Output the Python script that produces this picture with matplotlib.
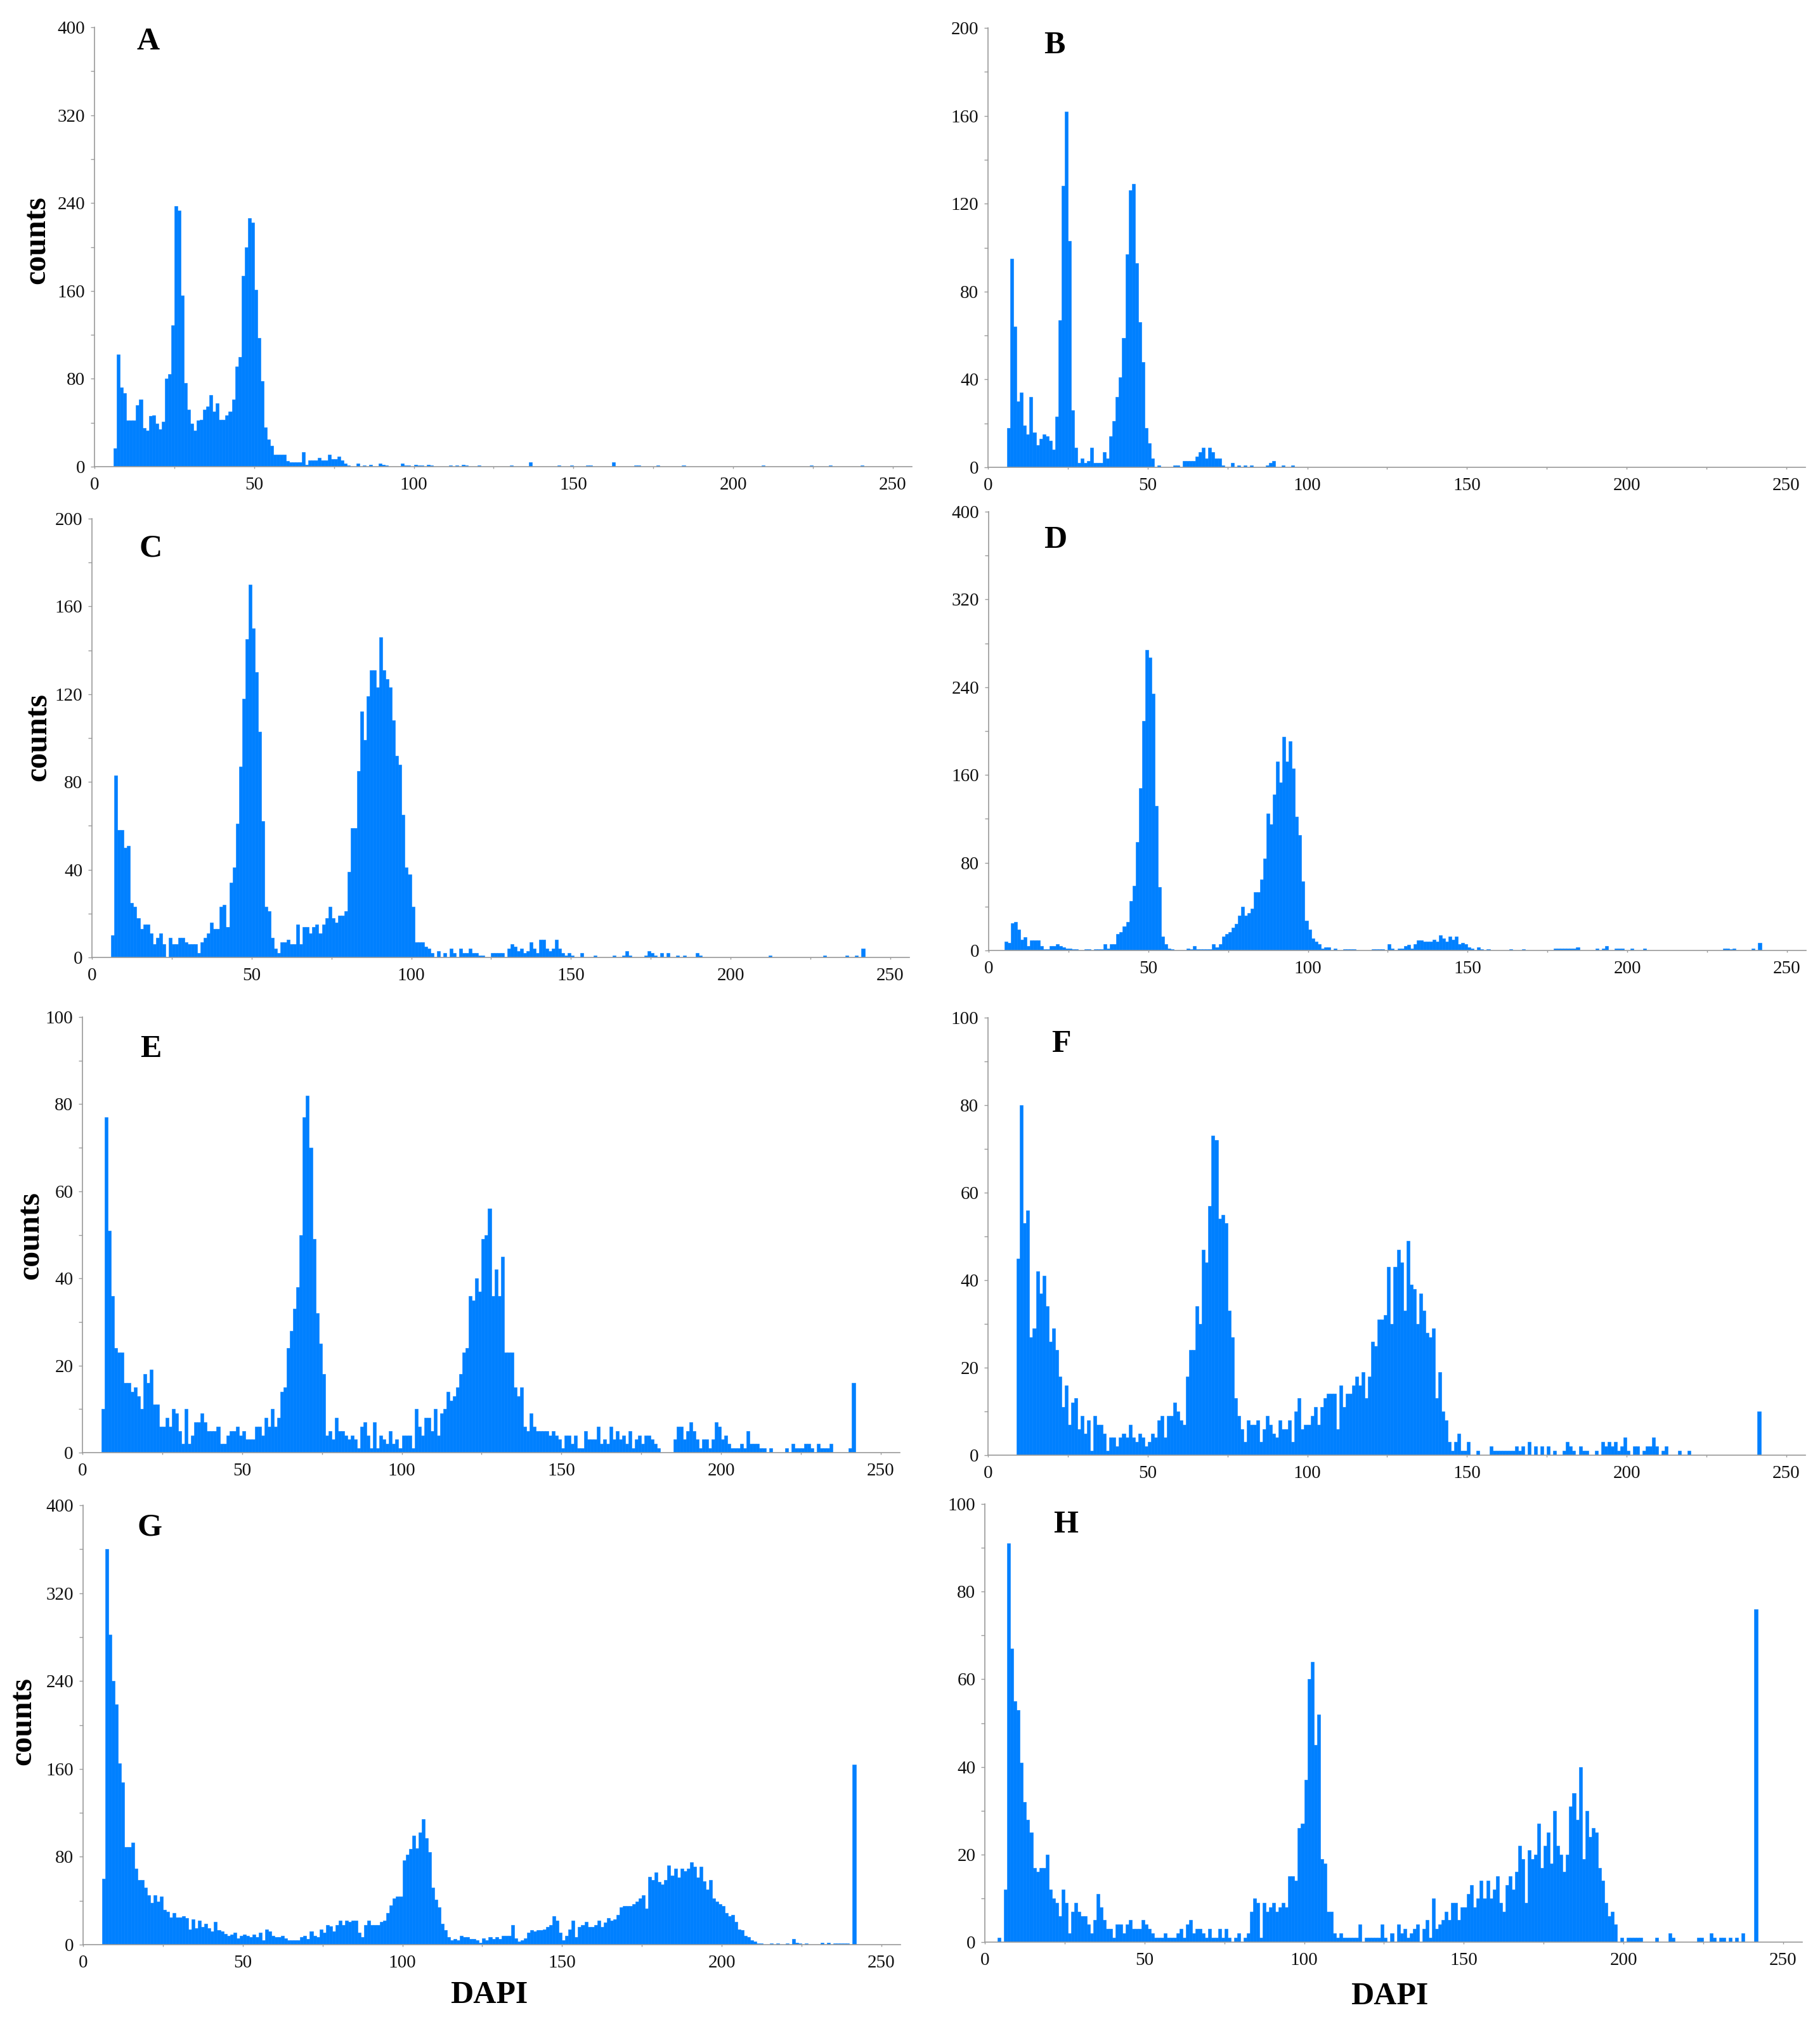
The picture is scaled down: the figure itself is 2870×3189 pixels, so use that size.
import numpy as np
import matplotlib
matplotlib.use('Agg')
import matplotlib.pyplot as plt
from matplotlib.ticker import MultipleLocator

plt.rcParams['font.family'] = ['Liberation Serif', 'DejaVu Serif']

# Histogramas DAPI: cuentas por canal (bins de ancho 1)

# A
a_start = 6
a_counts = [17, 102, 72, 67, 42, 42, 42, 56, 61, 35, 33, 46, 47, 39, 34, 41, 80, 84, 129, 237,
            233, 156, 76, 52, 39, 33, 42, 43, 52, 55, 65, 50, 58, 43, 43, 47, 50, 61, 91, 100,
            174, 200, 226, 222, 161, 117, 78, 36, 25, 19, 11, 11, 11, 11, 5, 4, 4, 4, 4, 13,
            2, 6, 6, 6, 8, 6, 6, 11, 7, 7, 9, 6, 3, 1]
a_tail_x = [82, 84, 86, 89, 90, 91, 96, 97, 98, 100, 101, 102, 104, 105, 111, 113, 115, 116,
            120, 130, 136, 145, 149, 154, 155, 162, 169, 170, 176, 184, 209, 224, 230, 240]
a_tail_y = [3, 1, 2, 3, 2, 1, 3, 1, 1, 2, 1, 1, 2, 1, 1, 1, 2, 1,
            1, 1, 4, 1, 1, 1, 1, 4, 1, 1, 1, 1, 1, 1, 1, 1]

# B
b_start = 6
b_counts = [18, 95, 64, 30, 34, 19, 15, 32, 16, 10, 13, 15, 14, 12, 8, 23, 67, 128, 162, 103,
            26, 9, 2, 4, 2, 3, 9, 2, 2, 2, 7, 4, 14, 21, 32, 41, 59, 97, 126, 129,
            93, 66, 48, 18, 11, 4, 0, 1, 0, 0, 0, 0, 1, 1, 0, 3, 3, 3, 3, 5,
            7, 9, 4, 9, 7, 4, 4, 1, 0, 0, 2, 0, 1, 0, 1, 0, 1, 0, 0, 0,
            0, 1, 2, 3, 0, 0, 1, 0, 0, 1]
b_tail_x = []
b_tail_y = []

# C
c_start = 6
c_counts = [10, 83, 58, 58, 50, 51, 25, 23, 18, 13, 15, 15, 11, 6, 9, 11, 6, 0, 9, 6,
            6, 9, 9, 7, 6, 6, 6, 2, 7, 9, 11, 16, 13, 13, 23, 24, 14, 34, 41, 61,
            87, 118, 145, 170, 150, 130, 103, 62, 23, 21, 9, 4, 2, 7, 7, 8, 6, 6, 15, 6,
            14, 14, 11, 14, 15, 11, 15, 18, 23, 18, 16, 19, 19, 21, 39, 59, 59, 85, 112, 99,
            119, 131, 131, 123, 146, 131, 127, 123, 108, 92, 88, 65, 41, 38, 23, 7, 7, 7, 5, 4,
            2, 0, 3, 0, 2, 0, 4, 2, 0, 4, 2, 2, 4, 2, 2, 1, 1, 0, 0, 2,
            2, 2, 2, 0, 4, 6, 5, 3, 4, 2, 3, 7, 4, 2, 8, 8, 4, 3, 4, 8,
            4, 2, 1, 2, 1]
c_tail_x = [153, 157, 163, 166, 167, 168, 173, 174, 175, 176, 178, 180, 183, 185, 189, 190,
            212, 229, 236, 239, 241]
c_tail_y = [2, 1, 1, 1, 3, 1, 1, 3, 2, 1, 2, 2, 1, 1, 2, 1,
            1, 1, 1, 1, 4]

# D
d_start = 5
d_counts = [8, 7, 25, 26, 19, 10, 12, 4, 9, 9, 9, 4, 1, 1, 4, 4, 6, 4, 3, 2,
            2, 1, 1, 0, 0, 1, 1, 0, 1, 1, 1, 6, 2, 6, 6, 15, 17, 22, 26, 45,
            59, 99, 148, 209, 274, 267, 234, 132, 58, 13, 6, 2, 1, 0, 0, 0, 0, 2, 1, 4,
            1, 1, 1, 1, 1, 6, 3, 6, 13, 15, 17, 21, 24, 32, 40, 32, 34, 38, 53, 53,
            65, 84, 125, 115, 142, 172, 153, 195, 172, 191, 166, 122, 105, 63, 27, 19, 11, 8, 6, 2,
            3, 3, 0, 2, 0, 0, 1, 1, 1, 1, 0, 0, 0, 0, 0, 1, 1, 1, 1, 0,
            6, 2, 0, 2, 2, 4, 5, 2, 6, 9, 9, 8, 8, 8, 10, 8, 14, 11, 8, 13,
            10, 13, 6, 7, 6, 3, 2, 0, 3, 1]
d_tail_x = [156, 163, 167, 177, 178, 179, 180, 181, 182, 183, 184, 190, 192, 193, 196, 197,
            198, 201, 205, 230, 231, 232, 233, 239, 241]
d_tail_y = [1, 1, 1, 2, 2, 2, 2, 2, 2, 2, 3, 2, 2, 4, 2, 2,
            2, 2, 2, 2, 2, 1, 2, 2, 7]

# E
e_start = 6
e_counts = [10, 77, 51, 36, 24, 23, 23, 16, 16, 14, 15, 13, 10, 18, 16, 19, 11, 11, 6, 6,
            8, 6, 10, 9, 5, 2, 10, 2, 4, 7, 7, 9, 7, 5, 5, 5, 6, 2, 2, 4,
            5, 5, 6, 4, 5, 3, 3, 3, 6, 6, 4, 8, 6, 10, 6, 8, 14, 15, 24, 28,
            33, 38, 50, 77, 82, 70, 49, 32, 25, 18, 4, 5, 3, 8, 5, 5, 4, 3, 4, 3,
            1, 6, 7, 4, 1, 7, 1, 4, 3, 2, 5, 2, 3, 1, 4, 4, 4, 1, 10, 6,
            4, 8, 8, 5, 10, 4, 9, 10, 14, 12, 13, 15, 18, 23, 24, 36, 35, 40, 37, 49,
            50, 56, 36, 42, 36, 45, 23, 23, 23, 15, 13, 15, 6, 5, 9, 6, 5, 5, 5, 5,
            4, 5, 4, 3, 1, 4, 4, 2, 4, 1, 1, 5, 3, 3, 3, 6, 2, 3, 2, 6,
            3, 5, 3, 4, 2, 5, 1, 3, 4, 2, 4, 4, 3, 2, 1, 0, 0, 0, 0, 3,
            6, 6, 3, 5, 7, 5, 3, 1, 3, 3, 1, 3, 7, 6, 3, 4, 2, 1, 1, 1,
            2, 1, 5, 2, 2, 2, 1, 1, 0, 1, 0, 0, 0, 0, 1, 0, 2, 1, 1, 1,
            2, 2, 1, 0, 2, 1, 1, 1, 2, 0, 0, 0, 0, 0, 1, 16]
e_tail_x = []
e_tail_y = []

# F
f_start = 9
f_counts = [45, 80, 53, 56, 27, 29, 42, 37, 41, 34, 26, 29, 24, 18, 11, 16, 7, 12, 13, 6,
            9, 5, 8, 1, 9, 7, 7, 5, 1, 4, 4, 2, 4, 5, 4, 7, 4, 3, 5, 4,
            2, 3, 5, 4, 8, 9, 4, 9, 9, 12, 10, 8, 7, 18, 24, 24, 34, 30, 47, 44,
            57, 73, 72, 54, 55, 53, 33, 27, 13, 9, 6, 3, 8, 7, 7, 8, 3, 6, 9, 7,
            5, 4, 8, 6, 6, 8, 3, 10, 13, 6, 7, 7, 9, 11, 7, 11, 13, 14, 14, 14,
            6, 16, 11, 14, 14, 16, 18, 16, 19, 13, 18, 26, 25, 31, 31, 32, 43, 30, 43, 47,
            44, 33, 49, 39, 38, 30, 37, 33, 28, 27, 29, 13, 19, 10, 8, 3, 1, 3, 5, 1,
            1, 3, 0, 0, 1, 0, 0, 0, 2, 1, 1, 1, 1, 1, 1, 1, 2, 1, 2, 0,
            3, 0, 2, 0, 2, 0, 2, 0, 1, 0, 0, 1, 3, 2, 1, 0, 2, 1, 1, 0,
            0, 1, 0, 3, 2, 3, 2, 3, 1, 2, 4, 1, 0, 2, 2, 0, 1, 2, 2, 4,
            2, 0, 1, 2, 0, 0, 0, 1, 0, 0, 1]
f_tail_x = [241]
f_tail_y = [10]

# G
g_start = 6
g_counts = [60, 360, 282, 240, 219, 165, 148, 89, 89, 93, 69, 59, 59, 52, 45, 38, 45, 39, 44, 32,
            30, 25, 29, 25, 25, 26, 24, 14, 23, 15, 22, 16, 19, 15, 12, 21, 13, 12, 10, 8,
            9, 11, 6, 8, 9, 8, 7, 9, 7, 11, 4, 14, 12, 8, 7, 7, 8, 6, 4, 4,
            4, 4, 7, 8, 5, 12, 8, 7, 14, 11, 18, 17, 12, 18, 22, 18, 22, 21, 22, 22,
            11, 7, 18, 22, 18, 18, 18, 21, 22, 29, 36, 42, 44, 44, 77, 82, 87, 99, 88, 102,
            114, 97, 84, 52, 41, 34, 19, 13, 7, 4, 5, 4, 8, 7, 7, 5, 5, 4, 2, 6,
            4, 7, 5, 7, 5, 8, 8, 8, 18, 6, 3, 4, 6, 11, 13, 12, 13, 13, 14, 16,
            18, 26, 22, 11, 4, 8, 14, 22, 7, 16, 18, 21, 16, 16, 18, 22, 16, 20, 24, 22,
            23, 27, 34, 35, 35, 35, 37, 39, 42, 45, 33, 62, 59, 66, 57, 55, 59, 72, 63, 69,
            61, 69, 67, 69, 75, 71, 61, 71, 58, 50, 59, 42, 39, 37, 35, 29, 26, 27, 21, 14,
            13, 8, 7, 4, 3, 1, 1, 0, 0, 1, 0, 1, 0, 0, 1, 0, 5, 2, 1, 0,
            1, 0, 0, 0, 0, 2, 0, 2, 0, 1, 1, 1, 1, 1, 0, 164]
g_tail_x = []
g_tail_y = []

# H
h_start = 4
h_counts = [1, 0, 12, 91, 67, 55, 53, 41, 32, 28, 25, 17, 16, 17, 17, 20, 12, 10, 9, 6,
            12, 9, 2, 7, 9, 7, 6, 6, 4, 2, 5, 11, 8, 5, 3, 3, 1, 4, 4, 2,
            4, 5, 3, 3, 3, 5, 4, 3, 2, 1, 1, 1, 2, 1, 1, 1, 2, 3, 1, 4,
            5, 2, 3, 3, 2, 1, 3, 1, 1, 3, 1, 3, 1, 0, 1, 2, 0, 1, 2, 7,
            10, 9, 1, 9, 7, 8, 9, 7, 8, 9, 8, 15, 15, 14, 26, 27, 37, 60, 64, 45,
            52, 19, 18, 7, 7, 2, 1, 2, 1, 1, 1, 1, 1, 4, 0, 1, 1, 1, 1, 1,
            4, 1, 0, 2, 0, 4, 2, 3, 1, 2, 3, 4, 0, 3, 5, 1, 10, 3, 4, 5,
            7, 5, 9, 9, 5, 8, 8, 11, 13, 8, 10, 14, 10, 14, 10, 12, 15, 9, 7, 13,
            15, 12, 16, 22, 19, 9, 21, 19, 20, 27, 17, 22, 25, 18, 30, 22, 20, 16, 20, 31,
            34, 28, 40, 19, 30, 24, 26, 25, 17, 14, 9, 6, 7, 4, 0, 1, 0, 1, 1, 1,
            1, 1]
h_tail_x = [210, 214, 215, 223, 224, 227, 228, 230, 231, 233, 235, 237, 241]
h_tail_y = [1, 2, 1, 1, 1, 2, 1, 1, 1, 1, 1, 2, 76]

letters = ['A', 'B', 'C', 'D', 'E', 'F', 'G', 'H']
y_max = [400, 200, 200, 400, 100, 100, 400, 100]
x_ticks = [0, 50, 100, 150, 200, 250]


def histo(start, core, tail_x, tail_y):
    n = np.zeros(256)
    n[start:start + len(core)] = core
    n[np.array(tail_x, dtype=int)] = tail_y
    return n


series = [
    histo(a_start, a_counts, a_tail_x, a_tail_y),
    histo(b_start, b_counts, b_tail_x, b_tail_y),
    histo(c_start, c_counts, c_tail_x, c_tail_y),
    histo(d_start, d_counts, d_tail_x, d_tail_y),
    histo(e_start, e_counts, e_tail_x, e_tail_y),
    histo(f_start, f_counts, f_tail_x, f_tail_y),
    histo(g_start, g_counts, g_tail_x, g_tail_y),
    histo(h_start, h_counts, h_tail_x, h_tail_y),
]

# posicion de cada panel en pixeles: eje y (x0), borde superior y borde inferior
W, H = 2870, 3189
cajas = [(149, 43, 736), (1558, 44, 737),
         (145, 818, 1510), (1559, 807, 1499),
         (130, 1604, 2291), (1558, 1605, 2295),
         (131, 2374, 3067), (1553, 2372, 3063)]
ancho = 1289  # 0..256 en pixeles

azul = '#0080ff'
gris = '#9a9a9a'

fig = plt.figure(figsize=(W / 100, H / 100), dpi=100)

for i, (x0, y_top, y_bot) in enumerate(cajas):
    ax = fig.add_axes([x0 / W, 1 - y_bot / H, ancho / W, (y_bot - y_top) / H])
    n = series[i]
    ax.bar(np.arange(256), n, width=1.0, align='edge', color=azul,
           edgecolor=azul, linewidth=0.4)
    ax.set_xlim(0, 256)
    ax.set_ylim(0, y_max[i])
    for s in ['top', 'right']:
        ax.spines[s].set_visible(False)
    for s in ['left', 'bottom']:
        ax.spines[s].set_color(gris)
        ax.spines[s].set_linewidth(1.2)
    ax.set_xticks(x_ticks)
    ax.xaxis.set_minor_locator(MultipleLocator(25))
    ax.yaxis.set_major_locator(MultipleLocator(y_max[i] / 5))
    ax.yaxis.set_minor_locator(MultipleLocator(y_max[i] / 10))
    ax.tick_params(axis='x', which='both', direction='out', length=2.5, width=1,
                   color=gris, labelsize=21, labelcolor='#111111', pad=9)
    ax.tick_params(axis='y', which='both', direction='out', length=4.5, width=1,
                   color=gris, labelsize=21, labelcolor='#111111', pad=6)
    ax.set_facecolor('none')

# letras de panel
pos_letras = [(234, 66), (1663, 72), (238, 866), (1664, 852),
              (238, 1655), (1673, 1647), (236, 2410), (1681, 2405)]
for letra, (x, y) in zip(letters, pos_letras):
    fig.text(x / W, 1 - y / H, letra, fontsize=36, fontweight='bold',
             ha='center', va='center')

# etiquetas de ejes
pos_counts = [(59, 378), (61, 1163), (49, 1949), (37, 2715)]
for x, y in pos_counts:
    fig.text(x / W, 1 - y / H, 'counts', fontsize=36, fontweight='bold',
             rotation=90, ha='center', va='center')

for x, y in [(771, 3147), (2191, 3149)]:
    fig.text(x / W, 1 - y / H, 'DAPI', fontsize=36, fontweight='bold',
             ha='center', va='center')

fig.savefig('out.png', dpi=100, facecolor='white')
